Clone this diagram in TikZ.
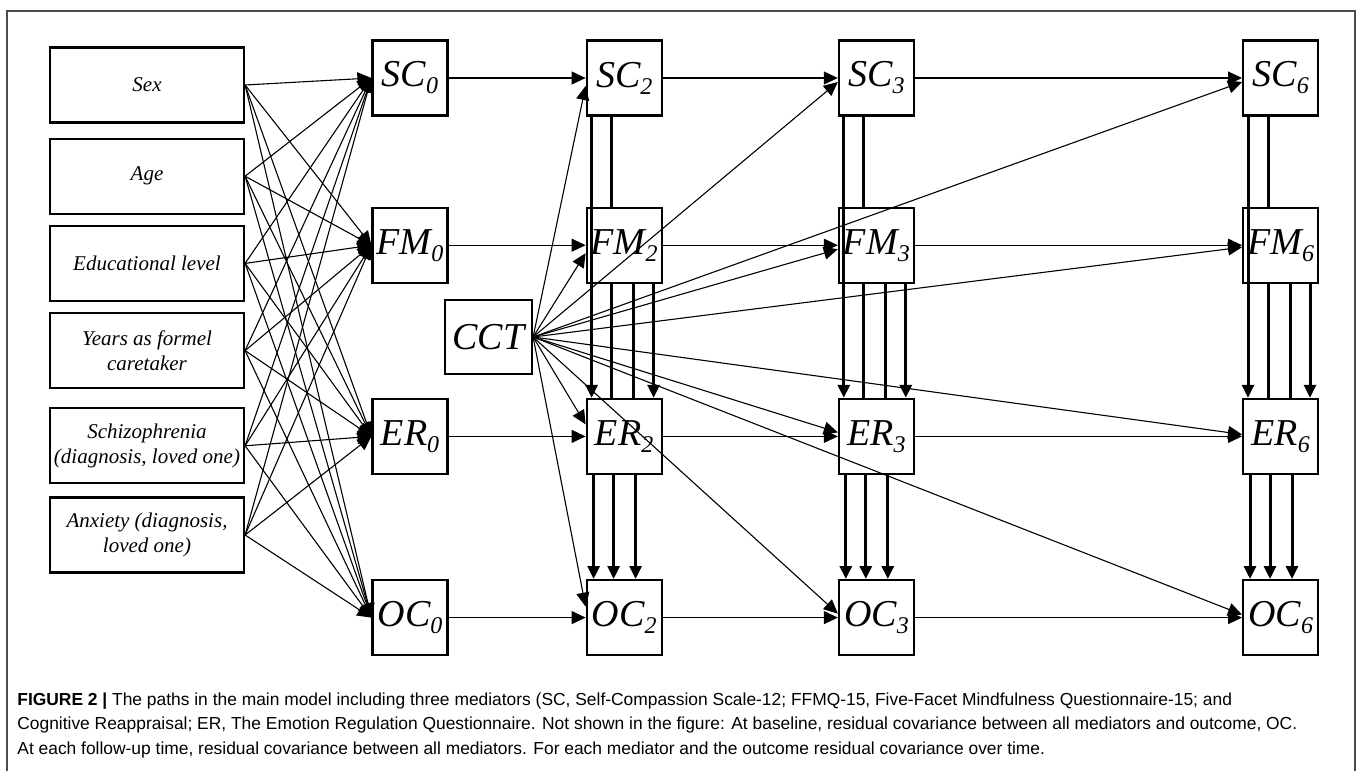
\documentclass[tikz,border=0pt]{standalone}
\usepackage{fontspec}
\setmainfont{Liberation Serif}
\newfontfamily\capfont{Liberation Sans}
\usetikzlibrary{arrows.meta, positioning}
\newcommand{\tsub}[1]{\raisebox{-3.5pt}{\fontsize{12}{12}\selectfont #1}}

\begin{document}
\begin{tikzpicture}[
  node distance=45pt and 68.5pt,
  covar/.style={draw, line width=1.1pt, minimum width=97pt, minimum height=37.5pt,
    inner sep=1pt, align=center, font=\fontsize{10.5}{12.5}\selectfont\itshape},
  mvar/.style={draw, line width=1.1pt, minimum width=37.5pt, minimum height=37.5pt,
    inner sep=1pt, font=\fontsize{19}{22}\selectfont\itshape},
  arr/.style={-{Triangle[length=7pt, width=6.5pt]}, line width=0.55pt},
  vline/.style={line width=1.5pt},
  varrow/.style={vline, -{Triangle[length=6.5pt, width=6pt]}},
]
  \useasboundingbox (0,0) rectangle (680pt,-385.5pt);
  \draw[black!70, line width=0.6pt]
    (3.5pt,-390pt) -- (3.5pt,-5.5pt) -- (677.5pt,-5.5pt) -- (677.5pt,-390pt);

  % Covariates
  \node[covar] (sex) at (73.5pt,-42.5pt) {Sex};
  \node[covar, below=7pt of sex] (age) {Age};
  \node[covar, below=5pt of age] (edu) {Educational level};
  \node[covar, below=5pt of edu] (years) {Years as formel\\caretaker};
  \node[covar, below=9pt of years] (schiz) {Schizophrenia\\(diagnosis, loved one)};
  \node[covar, below=6pt of schiz] (anx) {Anxiety (diagnosis,\\loved one)};

  % Baseline
  \node[mvar] (SC0) at (205pt,-39pt) {SC\tsub{0}};
  \node[mvar, below=45pt of SC0] (FM0) {FM\tsub{0}};
  \node[mvar, below=57pt of FM0] (ER0) {ER\tsub{0}};
  \node[mvar, below=52pt of ER0] (OC0) {OC\tsub{0}};

  % Follow-up 2
  \node[mvar, right=of SC0] (SC2) {SC\tsub{2}};
  \node[mvar, right=of FM0] (FM2) {FM\tsub{2}};
  \node[mvar, right=of ER0] (ER2) {ER\tsub{2}};
  \node[mvar, right=of OC0] (OC2) {OC\tsub{2}};

  % Follow-up 3
  \node[mvar, right=87.5pt of SC2] (SC3) {SC\tsub{3}};
  \node[mvar, right=87.5pt of FM2] (FM3) {FM\tsub{3}};
  \node[mvar, right=87.5pt of ER2] (ER3) {ER\tsub{3}};
  \node[mvar, right=87.5pt of OC2] (OC3) {OC\tsub{3}};

  % Follow-up 6
  \node[mvar, right=163.5pt of SC3] (SC6) {SC\tsub{6}};
  \node[mvar, right=163.5pt of FM3] (FM6) {FM\tsub{6}};
  \node[mvar, right=163.5pt of ER3] (ER6) {ER\tsub{6}};
  \node[mvar, right=163.5pt of OC3] (OC6) {OC\tsub{6}};

  % Treatment
  \node[mvar, minimum width=43.5pt, minimum height=37pt] (CCT)
    at (244.25pt,-168.5pt) {CCT};

  % covariates -> baseline
  \foreach \c in {sex,age,edu,years,schiz,anx}
    \foreach \m in {SC0,FM0,ER0,OC0}
      \draw[arr] (\c.east) -- (\m.west);

  % autoregressive paths
  \foreach \m in {SC,FM,ER,OC} {
    \draw[arr] (\m0.east) -- (\m2.west);
    \draw[arr] (\m2.east) -- (\m3.west);
    \draw[arr] (\m3.east) -- (\m6.west);
  }

  % CCT -> all follow-ups
  \foreach \m/\d in {SC2/-4, FM2/-4, ER2/6, OC2/5.5, SC3/-2, FM3/-2, ER3/2,
      OC3/2, SC6/-2, FM6/-1, ER6/1, OC6/1.5}
    \draw[arr] (CCT.east) -- ([yshift=\d pt]\m.west);

  % within-wave paths
  \foreach \t in {2,3,6} {
    \draw[varrow] ([xshift=3pt]SC\t.south west) -- ([xshift=3pt]ER\t.north west);
    \draw[vline] ([xshift=13pt]SC\t.south west) -- ([xshift=13pt]FM\t.north west);
    \draw[vline] ([xshift=13pt]FM\t.south west) -- ([xshift=13pt]ER\t.north west);
    \draw[vline] ([xshift=24pt]FM\t.south west) -- ([xshift=24pt]ER\t.north west);
    \draw[varrow] ([xshift=34pt]FM\t.south west) -- ([xshift=34pt]ER\t.north west);
    \foreach \x in {4,14,25}
      \draw[varrow] ([xshift=\x pt]ER\t.south west) -- ([xshift=\x pt]OC\t.north west);
  }

  % Caption
  \node[anchor=north west, inner sep=0pt, align=left,
    font=\fontsize{8.7}{12.25}\selectfont\capfont] (caption) at (8.5pt,-346pt)
    {\textbf{FIGURE 2 |} The paths in the main model including three mediators (SC, Self-Compassion Scale-12; FFMQ-15, Five-Facet Mindfulness Questionnaire-15; and\\
     Cognitive Reappraisal; ER, The Emotion Regulation Questionnaire. Not shown in the figure: At baseline, residual covariance between all mediators and outcome, OC.\\
     At each follow-up time, residual covariance between all mediators. For each mediator and the outcome residual covariance over time.};
\end{tikzpicture}
\end{document}
